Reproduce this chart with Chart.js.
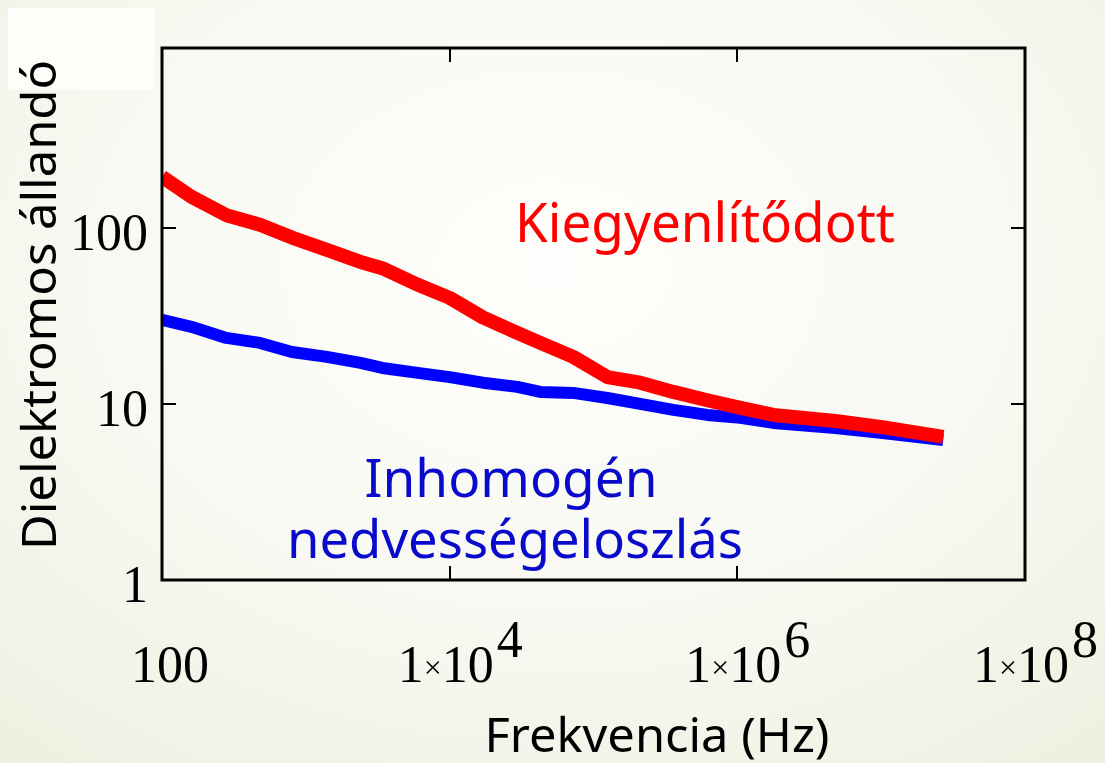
<!DOCTYPE html>
<html>
<head>
<meta charset="utf-8">
<script src="https://cdn.jsdelivr.net/npm/chart.js@4"></script>
<style>
  html, body { margin: 0; padding: 0; }
  body {
    width: 1105px; height: 763px; overflow: hidden;
    background: radial-gradient(ellipse 75% 80% at 50% 35%, #fefefc 0%, #f8f9f2 55%, #eef1e2 100%);
  }
  #wrap { width: 1105px; height: 763px; position: relative; }
</style>
</head>
<body>
<div id="wrap"><canvas id="myChart"></canvas></div>
<script>
// frequency (Hz) and dielectric constant
var freq = [100, 160, 280, 480, 800, 1400, 2400, 3400, 6000, 10000, 17000, 29500, 42700, 72300, 124700, 211000, 359000, 618000, 1050000, 1780000, 4800000, 9900000, 27000000];
var kiegyenlitodott = [195, 150, 118, 104, 88, 75, 64, 59, 47.5, 40, 31, 25.3, 22.2, 18.5, 14.2, 13.2, 11.7, 10.5, 9.5, 8.66, 8.0, 7.4, 6.5];
var inhomogen = [30, 27.4, 23.7, 22.2, 19.7, 18.5, 17.1, 16.0, 15.0, 14.2, 13.2, 12.5, 11.7, 11.55, 10.8, 10.0, 9.25, 8.66, 8.33, 7.8, 7.3, 6.85, 6.24];

var xTicks = [100, 1e4, 1e6, 1e8];
var xTickLabels = [['100', ''], ['1×10', '4'], ['1×10', '6'], ['1×10', '8']];
var yTicks = [1, 10, 100];
var yTickLabels = ['1', '10', '100'];

var SERIF = '"Liberation Serif", "Times New Roman", serif';
var SANS = '"Noto Sans", "DejaVu Sans", sans-serif';

function points(ys) {
    return freq.map(function (f, i) { return { x: f, y: ys[i] }; });
}

// draw text centred at cx, stretched/squeezed to a given width
function fitText(ctx, text, cx, base, width) {
    var w = ctx.measureText(text).width;
    ctx.save();
    ctx.translate(cx, base);
    ctx.scale(width / w, 1);
    ctx.textAlign = 'center';
    ctx.textBaseline = 'alphabetic';
    ctx.fillText(text, 0, 0);
    ctx.restore();
}

var decor = {
    id: 'decor',
    beforeDraw: function (chart) {
        var c = chart.ctx;
        c.save();
        c.fillStyle = '#fdfdfa';
        c.fillRect(8, 8, 147, 82);
        c.restore();
    },
    afterDraw: function (chart) {
        var c = chart.ctx, a = chart.chartArea;
        var xs = chart.scales.x, ys = chart.scales.y;
        c.save();
        c.strokeStyle = '#000';
        c.lineWidth = 3;
        c.strokeRect(a.left, a.top, a.right - a.left, a.bottom - a.top);

        // inward ticks on all four sides
        c.lineWidth = 2;
        c.beginPath();
        xTicks.forEach(function (v) {
            var px = Math.round(xs.getPixelForValue(v));
            c.moveTo(px, a.bottom); c.lineTo(px, a.bottom - 14);
            c.moveTo(px, a.top); c.lineTo(px, a.top + 14);
        });
        yTicks.forEach(function (v) {
            var py = Math.round(ys.getPixelForValue(v));
            c.moveTo(a.left, py); c.lineTo(a.left + 14, py);
            c.moveTo(a.right, py); c.lineTo(a.right - 14, py);
        });
        c.stroke();

        // tick labels
        c.fillStyle = '#000';
        c.textBaseline = 'alphabetic';
        c.font = '52px ' + SERIF;
        c.textAlign = 'right';
        yTicks.forEach(function (v, i) {
            c.fillText(yTickLabels[i], 148, ys.getPixelForValue(v) + 22);
        });

        var base = 682;
        xTicks.forEach(function (v, i) {
            var px = xs.getPixelForValue(v);
            var lab = xTickLabels[i];
            if (!lab[1]) {
                c.font = '52px ' + SERIF;
                c.textAlign = 'center';
                c.fillText(lab[0], px + 8, base);
                return;
            }
            var one = lab[0].split('×')[0], ten = lab[0].split('×')[1];
            c.textAlign = 'left';
            c.font = '52px ' + SERIF;
            var w1 = c.measureText(one).width, w10 = c.measureText(ten).width;
            c.font = '32px ' + SERIF;
            var wx = c.measureText('×').width;
            var x0 = px - 4 - (w1 + wx + w10) / 2;
            c.font = '52px ' + SERIF;
            c.fillText(one, x0, base);
            c.font = '32px ' + SERIF;
            c.fillText('×', x0 + w1, base - 4);
            c.font = '52px ' + SERIF;
            c.fillText(ten, x0 + w1 + wx, base);
            c.fillText(lab[1], x0 + w1 + wx + w10 + 3, base - 25);
        });

        // axis titles
        c.fillStyle = '#000';
        c.font = '48px ' + SANS;
        fitText(c, 'Frekvencia (Hz)', 657, 752, 345);
        c.save();
        c.translate(56, 305);
        c.rotate(-Math.PI / 2);
        fitText(c, 'Dielektromos állandó', 0, 0, 490);
        c.restore();

        // curve annotations
        c.fillStyle = '#ff0000';
        c.font = '54px ' + SANS;
        fitText(c, 'Kiegyenlítődott', 705, 242, 380);
        c.fillStyle = '#0a0acd';
        c.font = '52px ' + SANS;
        fitText(c, 'Inhomogén', 511, 497, 293);
        fitText(c, 'nedvességeloszlás', 515, 558, 456);
        c.restore();
    }
};

var ctx = document.getElementById('myChart');
var chart = new Chart(ctx, {
    type: 'line',
    data: {
        datasets: [{
            label: 'Kiegyenlítődott',
            data: points(kiegyenlitodott),
            borderColor: '#ff0000',
            borderWidth: 14,
            pointRadius: 0,
            borderCapStyle: 'butt',
            borderJoinStyle: 'round',
            tension: 0
        }, {
            label: 'Inhomogén nedvességeloszlás',
            data: points(inhomogen),
            borderColor: '#0000ff',
            borderWidth: 12,
            pointRadius: 0,
            borderCapStyle: 'butt',
            borderJoinStyle: 'round',
            tension: 0
        }]
    },
    options: {
        responsive: true,
        maintainAspectRatio: false,
        animation: false,
        events: [],
        layout: { padding: { left: 162, right: 80, top: 48, bottom: 183 } },
        plugins: {
            legend: { display: false },
            title: { display: false },
            tooltip: { enabled: false }
        },
        scales: {
            x: { type: 'logarithmic', min: 100, max: 1e8, display: false },
            y: { type: 'logarithmic', min: 1, max: 1050, display: false }
        }
    },
    plugins: [decor]
});
</script>
</body>
</html>
